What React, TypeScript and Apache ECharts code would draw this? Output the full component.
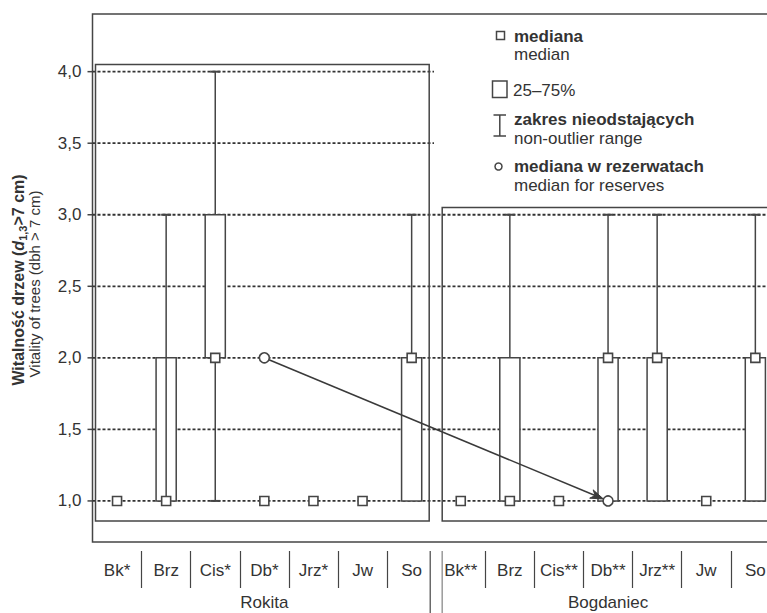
import React, { useEffect, useRef } from 'react';
import * as echarts from 'echarts';

// ---------- data ----------
const categories = ['Bk*', 'Brz', 'Cis*', 'Db*', 'Jrz*', 'Jw', 'So', 'Bk**', 'Brz', 'Cis**', 'Db**', 'Jrz**', 'Jw', 'So'];
const medians = [1, 1, 2, 1, 1, 1, 2, 1, 1, 1, 2, 2, 1, 2];
const q25 = [1, 1, 2, 1, 1, 1, 1, 1, 1, 1, 1, 1, 1, 1];
const q75 = [1, 2, 3, 1, 1, 1, 2, 1, 2, 1, 2, 2, 1, 2];
const rangeMin = [1, 1, 1, 1, 1, 1, 1, 1, 1, 1, 1, 1, 1, 1];
const rangeMax = [1, 3, 4, 1, 1, 1, 3, 1, 3, 1, 3, 3, 1, 3];
const lineInsideBox = [0, 1, 0, 0, 0, 0, 0, 0, 0, 0, 0, 0, 0, 0];
const reserveIndex = [3, 10];
const reserveMedian = [2, 1];
const groupNames = ['Rokita', 'Bogdaniec'];
const groupStart = [0, 7];
const groupEnd = [6, 13];
const groupTop = [4.05, 3.05];
const groupBottom = [0.86, 0.86];
const yGridValues = [1, 1.5, 2, 2.5, 3, 3.5, 4];

const FONT = '"Liberation Sans", Arial, Helvetica, sans-serif';
const LINE = '#454545';
const TEXT = '#333333';

export default function App() {
  const ref = useRef<HTMLDivElement>(null);

  useEffect(() => {
    document.body.style.margin = '0';
    const chart = echarts.init(ref.current as HTMLDivElement, null, { renderer: 'svg' });

    const boxData = categories.map((_, i) => [i, q25[i], q75[i], rangeMin[i], rangeMax[i], lineInsideBox[i]]);
    const medianData = categories.map((_, i) => [i, medians[i]]);
    const reserveData = reserveIndex.map((x, i) => [x, reserveMedian[i]]);
    const arrowData = [[reserveIndex[0], reserveMedian[0], reserveIndex[1], reserveMedian[1]]];
    const groupData = groupNames.map((_, i) => [groupStart[i], groupEnd[i], groupTop[i], groupBottom[i]]);
    const gridData = yGridValues.map((v) => [0, v]);

    const lineStyle = { stroke: LINE, lineWidth: 1.5 };

    const option: any = {
      animation: false,
      grid: {
        left: 92.5,
        top: 14,
        width: 687.4,
        height: 528,
        show: true,
        borderColor: LINE,
        borderWidth: 1.5,
        backgroundColor: 'transparent',
      },
      xAxis: [
        {
          type: 'category',
          data: categories,
          position: 'bottom',
          boundaryGap: true,
          axisLine: { show: false, onZero: false },
          axisTick: { show: false },
          axisLabel: { show: false },
          splitLine: { show: false },
        },
        {
          type: 'category',
          data: categories,
          position: 'bottom',
          offset: 9,
          boundaryGap: true,
          axisLine: { show: false, onZero: false },
          axisTick: {
            show: true,
            length: 37,
            inside: false,
            interval: (index: number) => index !== 0 && index !== 7,
            lineStyle: { color: LINE, width: 1.2 },
          },
          axisLabel: { show: true, interval: 0, fontSize: 17, color: TEXT, fontFamily: FONT, margin: 11 },
        },
        {
          type: 'category',
          data: groupNames,
          position: 'bottom',
          offset: 9,
          boundaryGap: true,
          axisLine: { show: false, onZero: false },
          axisTick: { show: false },
          axisLabel: { show: true, interval: 0, fontSize: 17, color: TEXT, fontFamily: FONT, margin: 43 },
        },
      ],
      yAxis: {
        type: 'value',
        min: 0.713,
        max: 4.403,
        splitNumber: 7,
        axisLine: { show: false },
        axisTick: { show: false },
        axisLabel: {
          fontSize: 17,
          color: TEXT,
          fontFamily: FONT,
          margin: 11,
          formatter: (v: number) =>
            Math.abs(v * 2 - Math.round(v * 2)) < 1e-6 ? v.toFixed(1).replace('.', ',') : '',
        },
        splitLine: { show: false },
      },
      series: [
        {
          type: 'custom',
          name: 'gridlines',
          z: 0,
          clip: false,
          data: gridData,
          encode: { x: 0, y: 1 },
          renderItem: (params: any, api: any) => {
            const cs = params.coordSys;
            const y = api.coord([0, api.value(1)])[1];
            return {
              type: 'group',
              children: [
                {
                  type: 'line',
                  shape: { x1: cs.x, y1: y, x2: cs.x + cs.width, y2: y },
                  style: { stroke: '#333', lineWidth: 1.8, lineDash: [3, 2] },
                },
                {
                  type: 'line',
                  shape: { x1: cs.x - 5, y1: y, x2: cs.x, y2: y },
                  style: { stroke: LINE, lineWidth: 1.5 },
                },
              ],
            };
          },
        },
        {
          type: 'custom',
          name: 'groups',
          z: 1,
          clip: false,
          data: groupData,
          encode: { x: [0, 1], y: [2, 3] },
          renderItem: (params: any, api: any) => {
            const s = api.value(0);
            const e = api.value(1);
            const top = api.value(2);
            const bottom = api.value(3);
            const band = api.size([1, 0])[0];
            const x1 = api.coord([s, top])[0] - band / 2 + (s === 0 ? 3 : 6);
            const x2 = api.coord([e, top])[0] + band / 2 - 7;
            const yT = api.coord([s, top])[1];
            const yB = api.coord([s, bottom])[1];
            const children: any[] = [
              {
                type: 'rect',
                shape: { x: x1, y: yT, width: x2 - x1, height: yB - yT },
                style: { fill: 'none', stroke: LINE, lineWidth: 1.5 },
              },
            ];
            if (s > 0) {
              const cs = params.coordSys;
              const yb = cs.y + cs.height;
              children.push({
                type: 'line',
                shape: { x1: x1 - 12, y1: yb + 9, x2: x1 - 12, y2: yb + 72 },
                style: { stroke: LINE, lineWidth: 1.2 },
              });
              children.push({
                type: 'line',
                shape: { x1: x1, y1: yb + 9, x2: x1, y2: yb + 72 },
                style: { stroke: '#9a9a9a', lineWidth: 1.5 },
              });
            }
            return { type: 'group', children };
          },
        },
        {
          type: 'custom',
          name: 'boxes',
          z: 2,
          clip: false,
          data: boxData,
          encode: { x: 0, y: [1, 2, 3, 4] },
          renderItem: (params: any, api: any) => {
            const i = api.value(0);
            const lo = api.value(1);
            const hi = api.value(2);
            const wmin = api.value(3);
            const wmax = api.value(4);
            const inner = api.value(5);
            const band = api.size([1, 0])[0];
            const bw = band * 0.41;
            const cx = api.coord([i, lo])[0];
            const yLo = api.coord([i, lo])[1];
            const yHi = api.coord([i, hi])[1];
            const yMin = api.coord([i, wmin])[1];
            const yMax = api.coord([i, wmax])[1];
            const children: any[] = [];
            if (wmax > hi) {
              children.push({ type: 'line', shape: { x1: cx, y1: yHi, x2: cx, y2: yMax }, style: lineStyle });
              children.push({ type: 'line', shape: { x1: cx - 5, y1: yMax, x2: cx + 5, y2: yMax }, style: { stroke: LINE, lineWidth: 2 } });
            }
            if (wmin < lo) {
              children.push({ type: 'line', shape: { x1: cx, y1: yLo, x2: cx, y2: yMin }, style: lineStyle });
              children.push({ type: 'line', shape: { x1: cx - 5, y1: yMin, x2: cx + 5, y2: yMin }, style: { stroke: LINE, lineWidth: 2 } });
            }
            if (hi > lo) {
              children.push({
                type: 'rect',
                shape: { x: cx - bw / 2, y: yHi, width: bw, height: yLo - yHi },
                style: { fill: '#ffffff', stroke: LINE, lineWidth: 1.5 },
              });
              if (inner) {
                children.push({ type: 'line', shape: { x1: cx, y1: yHi, x2: cx, y2: yLo }, style: lineStyle });
              }
            }
            return { type: 'group', children };
          },
        },
        {
          type: 'custom',
          name: 'arrow',
          z: 3,
          clip: false,
          data: arrowData,
          encode: { x: [0, 2], y: [1, 3] },
          renderItem: (params: any, api: any) => {
            const p0 = api.coord([api.value(0), api.value(1)]);
            const p1 = api.coord([api.value(2), api.value(3)]);
            const dx = p1[0] - p0[0];
            const dy = p1[1] - p0[1];
            const len = Math.sqrt(dx * dx + dy * dy);
            const ux = dx / len;
            const uy = dy / len;
            const nx = -uy;
            const ny = ux;
            const r = 5;
            const sx = p0[0] + ux * r;
            const sy = p0[1] + uy * r;
            const tx = p1[0] - ux * r;
            const ty = p1[1] - uy * r;
            const hl = 13;
            const hw = 4.5;
            const bx = tx - ux * hl;
            const by = ty - uy * hl;
            const mx = tx - ux * (hl - 4);
            const my = ty - uy * (hl - 4);
            return {
              type: 'group',
              children: [
                { type: 'line', shape: { x1: sx, y1: sy, x2: mx, y2: my }, style: { stroke: '#3a3a3a', lineWidth: 1.5 } },
                {
                  type: 'polygon',
                  shape: { points: [[tx, ty], [bx + nx * hw, by + ny * hw], [mx, my], [bx - nx * hw, by - ny * hw]] },
                  style: { fill: '#3a3a3a', stroke: '#3a3a3a', lineWidth: 1 },
                },
              ],
            };
          },
        },
        {
          type: 'scatter',
          name: 'mediana',
          z: 4,
          symbol: 'rect',
          symbolSize: 9,
          data: medianData,
          itemStyle: { color: '#ffffff', borderColor: LINE, borderWidth: 1.6, opacity: 1 },
        },
        {
          type: 'scatter',
          name: 'mediana w rezerwatach',
          z: 5,
          symbol: 'circle',
          symbolSize: 10,
          data: reserveData,
          itemStyle: { color: '#ffffff', borderColor: LINE, borderWidth: 1.6, opacity: 1 },
        },
      ],
      graphic: [
        // y-axis title (two lines, rotated)
        {
          type: 'text',
          x: 18,
          y: 280,
          rotation: Math.PI / 2,
          z: 10,
          style: {
            text: '{b|Witalność drzew (}{d|d}{s|1,3}{b|>7 cm)}',
            align: 'center',
            verticalAlign: 'middle',
            rich: {
              b: { fontSize: 16, fontWeight: 'bold', fill: TEXT, fontFamily: FONT, lineHeight: 20 },
              d: { fontSize: 16, fontWeight: 'bold', fontStyle: 'italic', fill: TEXT, fontFamily: FONT, lineHeight: 20 },
              s: { fontSize: 11, fontWeight: 'bold', fill: TEXT, fontFamily: FONT, lineHeight: 20, verticalAlign: 'bottom' },
            },
          },
        },
        {
          type: 'text',
          x: 34,
          y: 284,
          rotation: Math.PI / 2,
          z: 10,
          style: {
            text: 'Vitality of trees (dbh > 7 cm)',
            fontSize: 15,
            fontFamily: FONT,
            fill: TEXT,
            align: 'center',
            verticalAlign: 'middle',
          },
        },
        // legend
        { type: 'rect', shape: { x: 434, y: 15, width: 366, height: 186 }, style: { fill: '#ffffff', stroke: 'none' }, z: 9 },
        { type: 'rect', shape: { x: 496.5, y: 31.5, width: 8, height: 8 }, style: { fill: '#fff', stroke: LINE, lineWidth: 1.5 }, z: 10 },
        { type: 'text', x: 514, y: 36, style: { text: 'mediana', fontSize: 17, fontWeight: 'bold', fontFamily: FONT, fill: TEXT, verticalAlign: 'middle' }, z: 10 },
        { type: 'text', x: 514, y: 54, style: { text: 'median', fontSize: 17, fontFamily: FONT, fill: TEXT, verticalAlign: 'middle' }, z: 10 },
        { type: 'rect', shape: { x: 492.5, y: 81, width: 14.5, height: 16.5 }, style: { fill: '#fff', stroke: LINE, lineWidth: 1.5 }, z: 10 },
        { type: 'text', x: 513, y: 90, style: { text: '25–75%', fontSize: 17, fontFamily: FONT, fill: TEXT, verticalAlign: 'middle' }, z: 10 },
        { type: 'line', shape: { x1: 499.8, y1: 115, x2: 499.8, y2: 136 }, style: { stroke: LINE, lineWidth: 1.5 }, z: 10 },
        { type: 'line', shape: { x1: 493.5, y1: 115, x2: 506, y2: 115 }, style: { stroke: LINE, lineWidth: 1.5 }, z: 10 },
        { type: 'line', shape: { x1: 493.5, y1: 136, x2: 506, y2: 136 }, style: { stroke: LINE, lineWidth: 1.5 }, z: 10 },
        { type: 'text', x: 514, y: 119, style: { text: 'zakres nieodstających', fontSize: 17, fontWeight: 'bold', fontFamily: FONT, fill: TEXT, verticalAlign: 'middle' }, z: 10 },
        { type: 'text', x: 514, y: 138, style: { text: 'non-outlier range', fontSize: 17, fontFamily: FONT, fill: TEXT, verticalAlign: 'middle' }, z: 10 },
        { type: 'circle', shape: { cx: 498.5, cy: 166.5, r: 3.5 }, style: { fill: '#fff', stroke: LINE, lineWidth: 1.5 }, z: 10 },
        { type: 'text', x: 514, y: 166, style: { text: 'mediana w rezerwatach', fontSize: 17, fontWeight: 'bold', fontFamily: FONT, fill: TEXT, verticalAlign: 'middle' }, z: 10 },
        { type: 'text', x: 514, y: 185, style: { text: 'median for reserves', fontSize: 17, fontFamily: FONT, fill: TEXT, verticalAlign: 'middle' }, z: 10 },
      ],
    };

    chart.setOption(option);
    return () => chart.dispose();
  }, []);

  return (
    <div style={{ width: 767, height: 613, overflow: 'hidden', position: 'relative' }}>
      <div ref={ref} style={{ width: 800, height: 613 }} />
    </div>
  );
}
